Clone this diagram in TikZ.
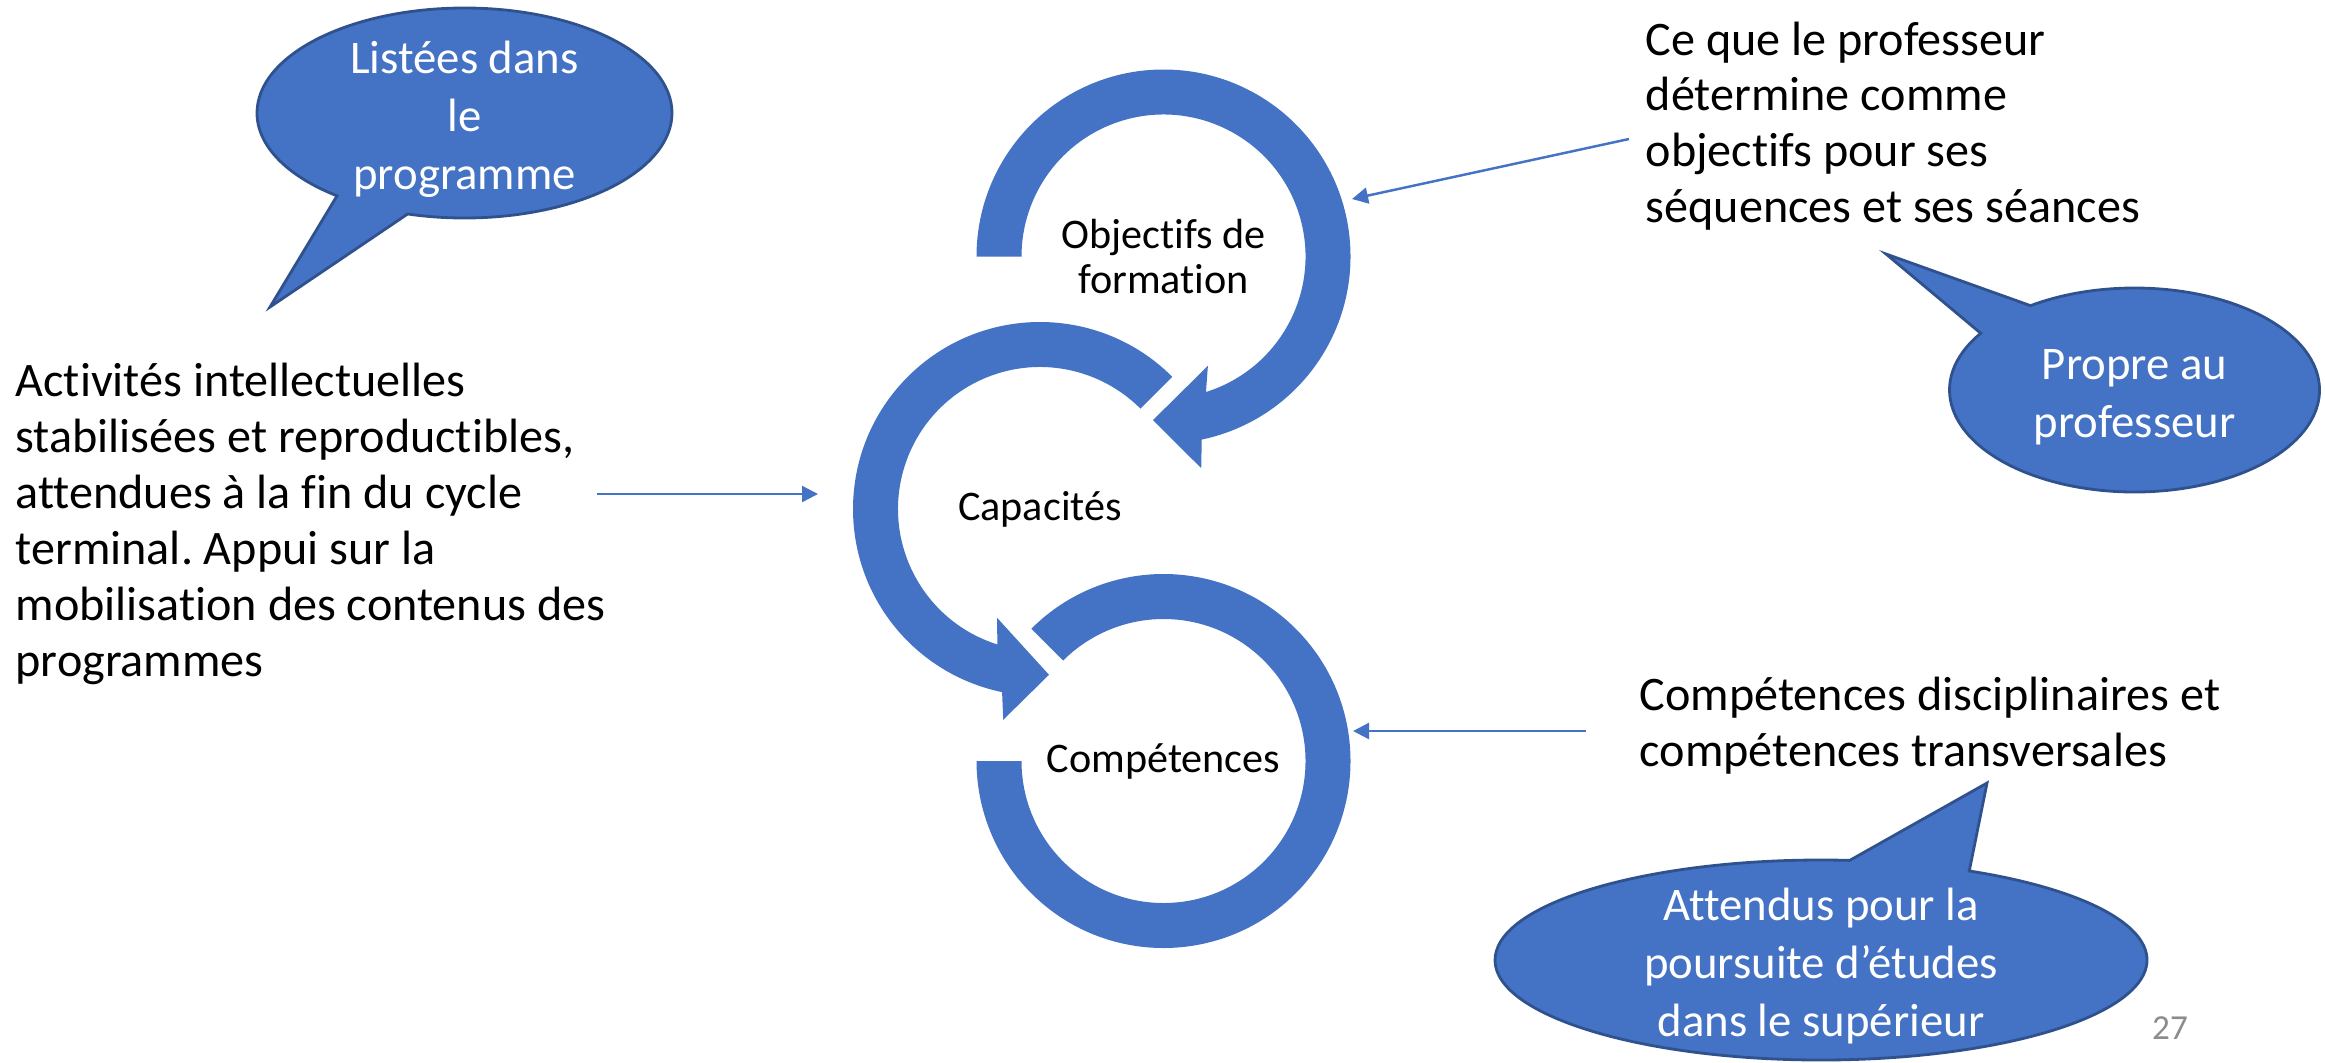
\documentclass[tikz,border=0pt]{standalone}
\usepackage{fontspec}
\setmainfont{Carlito}[Ligatures=NoCommon]
\usetikzlibrary{shapes.callouts,arrows.meta,calc}
\frenchspacing

\definecolor{ppblue}{HTML}{4472C4}
\definecolor{ppedge}{HTML}{2F528F}
\definecolor{pagegray}{HTML}{8C8C8C}

\newcommand{\bubbletext}[1]{\smash{\raisebox{-0.2cm}{\begin{tabular}{@{}c@{}}#1\end{tabular}}}}

\begin{document}
\begin{tikzpicture}[
  ring/.style={fill=ppblue},
  lbl/.style={align=center, inner sep=0pt, font=\fontsize{12}{12.8}\selectfont},
  txt/.style={align=left, inner sep=0pt, font=\fontsize{13.7}{15.9}\selectfont},
  bubble/.style={ellipse callout, draw=ppedge, line width=0.8pt, fill=ppblue,
    text=white, inner sep=0pt, callout pointer arc=22,
    font=\fontsize{13.3}{16.5}\selectfont},
  link/.style={draw=ppblue, line width=0.7pt, -{Triangle[length=1.6mm,width=1.6mm]}}
]
\useasboundingbox (0,0) rectangle (23.25,-10.62);

% --- the three circles ---
\node[lbl] (obj)  at (11.635,-2.565) {Objectifs de\\formation};
\node[lbl] (cap)  at (10.40,-5.09)   {Capacités};
\node[lbl] (comp) at (11.635,-7.61)  {Compétences};

% --- circular arrows ---
\fill[ring] ($(obj.center)+(180:1.87)$) arc[start angle=180, end angle=-78.2, radius=1.87]
  -- ($(obj.center)+(-79.9:2.15)$) -- ($(obj.center)+(-93.7:1.64)$)
  -- ($(obj.center)+(-67.9:1.18)$) -- ($(obj.center)+(-72.6:1.42)$)
  arc[start angle=-72.6, end angle=180, radius=1.42] -- cycle;
\fill[ring] ($(cap.center)+(45:1.87)$) arc[start angle=45, end angle=258.3, radius=1.87]
  -- ($(cap.center)+(260.1:2.14)$) -- ($(cap.center)+(273.1:1.66)$)
  -- ($(cap.center)+(248.5:1.17)$) -- ($(cap.center)+(252.5:1.42)$)
  arc[start angle=252.5, end angle=45, radius=1.42] -- cycle;
\fill[ring] ($(comp.center)+(135:1.87)$) arc[start angle=135, end angle=-180, radius=1.87]
  -- ($(comp.center)+(180:1.42)$)
  arc[start angle=-180, end angle=135, radius=1.42] -- cycle;

% --- texts ---
\node[txt, anchor=west] (act) at (0.15,-5.24) {Activités intellectuelles\\stabilisées et reproductibles,\\attendues à la fin du cycle\\terminal. Appui sur la\\mobilisation des contenus des\\programmes};
\node[txt, anchor=west] (prof) at (16.45,-1.26) {Ce que le professeur\\détermine comme\\objectifs pour ses\\séquences et ses séances};
\node[txt, anchor=west] (disc) at (16.39,-7.255) {Compétences disciplinaires et\\compétences transversales};

% --- callouts ---
\coordinate (tipL) at (2.70,-3.07);
\coordinate (tipP) at (18.86,-2.54);
\coordinate (tipA) at (19.87,-7.83);
\node[bubble, minimum width=4.15cm, minimum height=2.10cm, callout absolute pointer={(tipL)}]
  (list) at (4.645,-1.13) {\bubbletext{Listées dans\\le\\programme}};
\node[bubble, minimum width=3.70cm, minimum height=2.04cm, callout absolute pointer={(tipP)}]
  (propre) at (21.345,-3.90) {\bubbletext{Propre au\\professeur}};
\node[bubble, minimum width=6.52cm, minimum height=2.00cm, callout absolute pointer={(tipA)}]
  (att) at (18.21,-9.60) {\bubbletext{Attendus pour la\\poursuite d’études\\dans le supérieur}};

% --- thin arrows ---
\coordinate (s1) at (5.97,-4.94);
\coordinate (e1) at (8.18,-4.94);
\coordinate (s2) at (16.29,-1.39);
\coordinate (e2) at (13.52,-1.99);
\coordinate (s3) at (15.86,-7.31);
\coordinate (e3) at (13.53,-7.31);
\draw[link] (s1) -- (e1);
\draw[link] (s2) -- (e2);
\draw[link] (s3) -- (e3);

% page number
\node[text=pagegray, font=\fontsize{10}{12}\selectfont] (page) at (21.70,-10.28) {27};
\end{tikzpicture}
\end{document}
